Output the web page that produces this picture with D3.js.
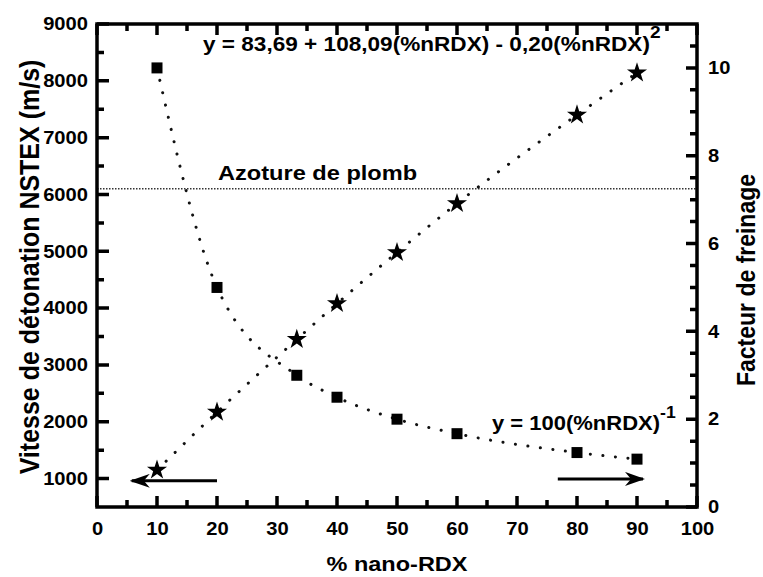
<!DOCTYPE html>
<html>
<head>
<meta charset="utf-8">
<script src="https://cdn.jsdelivr.net/npm/d3@7"></script>
<style>
  body { margin: 0; background: #fff; }
  svg { display: block; }
  svg text { font-family: "Liberation Sans", Arial, sans-serif; font-weight: bold; fill: #000; }
</style>
</head>
<body>
<div id="chart"></div>
<script>
// values
const nanoRdx = [10, 20, 33.3, 40, 50, 60, 80, 90]
const vitesse = [1150, 2170, 3450, 4080, 4980, 5840, 7400, 8140]
const freinage = [10, 5, 3.0, 2.5, 2.0, 1.67, 1.24, 1.09]
const azoturePlomb = 6100

const xMajor = d3.range(0, 101, 10)
const xMinor = d3.range(5, 100, 10)
const leftMajor = d3.range(1000, 9001, 1000)
const leftMinor = d3.range(1500, 9000, 1000)
const rightMajor = [0, 2, 4, 6, 8, 10]
const rightMinor = d3.range(0.5, 10.6, 0.5).filter(v => v % 2 !== 0)

const width = 763, height = 577
const margin = { top: 24, right: 66, bottom: 70, left: 97 }
const sx = 1.12 // glyphs in the figure are a little wide

const svg = d3.select("#chart").append("svg")
  .attr("width", width).attr("height", height)

const x = d3.scaleLinear().domain([0, 100]).range([margin.left, width - margin.right])
const yLeft = d3.scaleLinear().domain([500, 9000]).range([height - margin.bottom, margin.top])
const yRight = d3.scaleLinear().domain([0, 11]).range([height - margin.bottom, margin.top])

const plotBottom = height - margin.bottom
const plotRight = width - margin.right

// arrow head
svg.append("defs").append("marker")
  .attr("id", "head")
  .attr("markerUnits", "userSpaceOnUse")
  .attr("viewBox", "0 -7 20 14")
  .attr("refX", 18).attr("refY", 0)
  .attr("markerWidth", 20).attr("markerHeight", 14)
  .attr("orient", "auto")
  .append("path")
  .attr("d", "M20,0 L0,-7 L6,0 L0,7 Z")
  .attr("fill", "#000")

// reference line
svg.append("line")
  .attr("x1", x(0)).attr("x2", x(100))
  .attr("y1", yLeft(azoturePlomb)).attr("y2", yLeft(azoturePlomb))
  .attr("stroke", "#333").attr("stroke-width", 1.5)
  .attr("stroke-dasharray", "1.5,1.5")

// fitted curves (dotted) drawn through the points
const dotted = g => g.attr("fill", "none").attr("stroke", "#111")
  .attr("stroke-width", 3).attr("stroke-linecap", "round")
  .attr("stroke-dasharray", "0.1,12.5")

svg.append("path")
  .datum(nanoRdx.map((v, i) => [v, vitesse[i]]))
  .attr("d", d3.line().x(d => x(d[0])).y(d => yLeft(d[1])).curve(d3.curveMonotoneX))
  .call(dotted)

svg.append("path")
  .datum(nanoRdx.map((v, i) => [v, freinage[i]]))
  .attr("d", d3.line().x(d => x(d[0])).y(d => yRight(d[1])).curve(d3.curveMonotoneX))
  .call(dotted)

// markers
svg.append("g").selectAll("path")
  .data(nanoRdx.map((v, i) => [v, freinage[i]]))
  .join("path")
    .attr("transform", d => `translate(${x(d[0])},${yRight(d[1])})`)
    .attr("d", d3.symbol(d3.symbolSquare, 121))
    .attr("fill", "#000")

svg.append("g").selectAll("path")
  .data(nanoRdx.map((v, i) => [v, vitesse[i]]))
  .join("path")
    .attr("transform", d => `translate(${x(d[0])},${yLeft(d[1])})`)
    .attr("d", d3.symbol(d3.symbolStar, 125))
    .attr("fill", "#000")

// arrows showing which axis each series belongs to
svg.append("line")
  .attr("x1", x(20)).attr("x2", x(5.8))
  .attr("y1", yLeft(960)).attr("y2", yLeft(960))
  .attr("stroke", "#000").attr("stroke-width", 3)
  .attr("marker-end", "url(#head)")

svg.append("line")
  .attr("x1", x(76.8)).attr("x2", x(91))
  .attr("y1", yRight(0.64)).attr("y2", yRight(0.64))
  .attr("stroke", "#000").attr("stroke-width", 3)
  .attr("marker-end", "url(#head)")

// axes: labels from d3.axis
const cleanAxis = g => {
  g.select(".domain").remove()
  g.selectAll(".tick line").remove()
  g.attr("font-size", 18).attr("font-family", null)
}

svg.append("g").attr("transform", `translate(0,${plotBottom})`)
  .call(d3.axisBottom(x).tickValues(xMajor).tickSize(0).tickPadding(15).tickFormat(d3.format("d")))
  .call(cleanAxis)
  .call(g => g.selectAll("text").attr("transform", `scale(${sx},1)`))

svg.append("g").attr("transform", `translate(${margin.left},0)`)
  .call(d3.axisLeft(yLeft).tickValues(leftMajor).tickSize(0).tickPadding(9).tickFormat(d3.format("d")))
  .call(cleanAxis)
  .call(g => g.selectAll("text").attr("transform", `scale(${sx},1)`).attr("x", -9 / sx))

svg.append("g").attr("transform", `translate(${plotRight},0)`)
  .call(d3.axisRight(yRight).tickValues(rightMajor).tickSize(0).tickPadding(11).tickFormat(d3.format("d")))
  .call(cleanAxis)
  .call(g => g.selectAll("text").attr("transform", `scale(${sx},1)`).attr("x", 11 / sx))

// frame
svg.append("rect")
  .attr("x", margin.left).attr("y", margin.top)
  .attr("width", plotRight - margin.left).attr("height", plotBottom - margin.top)
  .attr("fill", "none").attr("stroke", "#000").attr("stroke-width", 3.5)

// inward ticks, drawn from the same scales
const tickPath = (values, size, orient, scale) => {
  const horiz = orient === "bottom" || orient === "top"
  const base = { bottom: plotBottom, top: margin.top, left: margin.left, right: plotRight }[orient]
  const dir = (orient === "bottom" || orient === "right") ? -1 : 1
  const p = d3.path()
  values.forEach(v => {
    if (horiz) { p.moveTo(scale(v), base); p.lineTo(scale(v), base + dir * size) }
    else { p.moveTo(base, scale(v)); p.lineTo(base + dir * size, scale(v)) }
  })
  svg.append("path")
    .attr("d", p.toString())
    .attr("fill", "none").attr("stroke", "#000").attr("stroke-width", 3.5)
}

tickPath(xMajor, 11, "bottom", x)
tickPath(xMinor, 7, "bottom", x)
tickPath(xMajor, 11, "top", x)
tickPath(xMinor, 7, "top", x)
tickPath(leftMajor, 12, "left", yLeft)
tickPath(leftMinor, 7, "left", yLeft)
tickPath(rightMajor, 11, "right", yRight)
tickPath(rightMinor, 7, "right", yRight)

// titles
svg.append("text")
  .attr("transform", `translate(${(margin.left + plotRight) / 2},571) scale(${sx},1)`)
  .attr("text-anchor", "middle").attr("font-size", 21)
  .text("% nano-RDX")

svg.append("text")
  .attr("transform", `translate(39,267) rotate(-90) scale(1,1.1)`)
  .attr("text-anchor", "middle").attr("font-size", 25)
  .text("Vitesse de détonation NSTEX (m/s)")

svg.append("text")
  .attr("transform", `translate(755,280) rotate(-90) scale(1,1.1)`)
  .attr("text-anchor", "middle").attr("font-size", 23)
  .text("Facteur de freinage")

// annotations
const eq1 = svg.append("text")
  .attr("transform", `translate(203,51) scale(1.13,1)`)
  .attr("font-size", 20)
eq1.append("tspan").text("y = 83,69 + 108,09(%nRDX) - 0,20(%nRDX)")
eq1.append("tspan").attr("dy", -13).attr("font-size", 17).text("2")

svg.append("text")
  .attr("transform", `translate(218,180) scale(1.18,1)`)
  .attr("font-size", 20)
  .text("Azoture de plomb")

const eq2 = svg.append("text")
  .attr("transform", `translate(492,430) scale(1.1,1)`)
  .attr("font-size", 20)
eq2.append("tspan").text("y = 100(%nRDX)")
eq2.append("tspan").attr("dy", -12).attr("font-size", 16).text("-1")
</script>
</body>
</html>
